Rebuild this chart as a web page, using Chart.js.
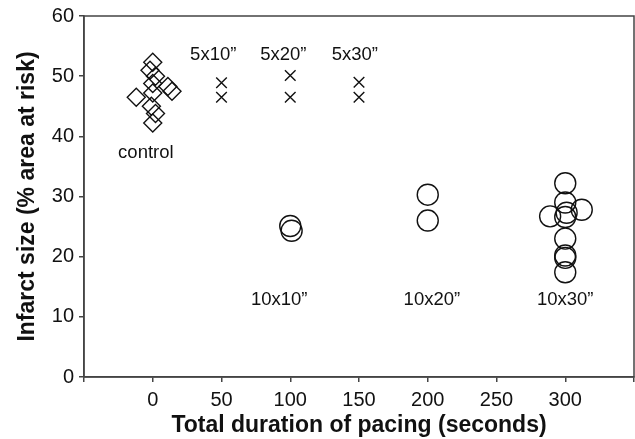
<!DOCTYPE html>
<html>
<head>
<meta charset="utf-8">
<script src="https://cdn.jsdelivr.net/npm/chart.js@4.4.0/dist/chart.umd.min.js"></script>
<style>
  html, body { margin: 0; padding: 0; background: #fff; }
  #wrap { width: 635px; height: 439px; }
</style>
</head>
<body>
<div id="wrap"><canvas id="scatterChart" width="635" height="439"></canvas></div>
<script>
  'use strict';

  /* Data
   * ----
   * x = total pacing (s), y = infarct size (% area at risk)
   */
  var controlX = [0, -2, 2, 0, 11, 14, -12, 0, -1, 2, 0];
  var controlY = [52.3, 51.0, 50.0, 48.8, 48.3, 47.5, 46.5, 47.2, 45.0, 43.8, 42.2];

  var fiveX = [50, 50, 100, 100, 150, 150];
  var fiveY = [48.9, 46.5, 50.1, 46.5, 49.0, 46.5];

  var tenX = [100, 101, 200, 200, 300, 300, 312, 301, 300, 289, 300, 300, 300, 300];
  var tenY = [25.1, 24.3, 30.3, 26.0, 32.2, 29.0, 27.8, 27.3, 26.6, 26.7, 23.0, 20.2, 19.8, 17.4];

  var groupLabels = ['control', '5x10\u201d', '5x20\u201d', '5x30\u201d', '10x10\u201d', '10x20\u201d', '10x30\u201d'];
  var labelX = [-5, 44, 95, 147, 92, 203, 300];
  var labelY = [37.2, 53.6, 53.6, 53.6, 12.8, 12.8, 12.8];

  var xTicks = [-50, 0, 50, 100, 150, 200, 250, 300, 350];

  function toPoints(xs, ys) {
    return xs.map(function(x, i) { return { x: x, y: ys[i] }; });
  }

  var FONT = "'Liberation Sans', Arial, Helvetica, sans-serif";

  // group labels and the box around the plot
  var annotate = {
    id: 'annotate',
    afterDatasetsDraw: function(chart) {
      var ctx = chart.ctx;
      var xs = chart.scales.x, ys = chart.scales.y;
      ctx.save();
      ctx.fillStyle = '#111';
      ctx.font = '18.5px ' + FONT;
      ctx.textAlign = 'center';
      ctx.textBaseline = 'middle';
      groupLabels.forEach(function(t, i) {
        ctx.fillText(t, xs.getPixelForValue(labelX[i]), ys.getPixelForValue(labelY[i]));
      });
      var a = chart.chartArea;
      ctx.strokeStyle = '#444';
      ctx.lineWidth = 1.5;
      ctx.strokeRect(a.left, a.top, a.right - a.left, a.bottom - a.top);
      ctx.restore();
    }
  };

  var markerStyle = {
    backgroundColor: 'rgba(0,0,0,0)',
    borderColor: '#111',
    borderWidth: 1.4
  };

  var scatterData = {
    datasets: [
      Object.assign({ label: 'control', data: toPoints(controlX, controlY), pointStyle: 'rectRot', pointRadius: 9 }, markerStyle),
      Object.assign({ label: '5x', data: toPoints(fiveX, fiveY), pointStyle: 'crossRot', pointRadius: 7.5 }, markerStyle),
      Object.assign({ label: '10x', data: toPoints(tenX, tenY), pointStyle: 'circle', pointRadius: 10.5 }, markerStyle)
    ]
  };

  var scatterOptions = {
    responsive: false,
    animation: false,
    layout: { autoPadding: false, padding: { top: 16, right: 1, left: 0, bottom: 0 } },
    plugins: { legend: { display: false }, tooltip: { enabled: false } },
    scales: {
      x: {
        type: 'linear',
        min: -50,
        max: 350,
        afterBuildTicks: function(s) { s.ticks = xTicks.map(function(v) { return { value: v }; }); },
        afterFit: function(s) { s.height = 439 - 377; s.paddingLeft = 0; s.paddingRight = 0; },
        grid: { display: true, drawOnChartArea: false, tickLength: 5, color: '#444', lineWidth: 1.5 },
        border: { color: '#444', width: 1.5 },
        ticks: {
          color: '#111',
          font: { family: FONT, size: 20 },
          padding: 6,
          maxRotation: 0,
          callback: function(v) { return (v < 0 || v > 300) ? '' : v; }
        },
        title: {
          display: true,
          text: 'Total duration of pacing (seconds)',
          color: '#111',
          font: { family: FONT, size: 23, weight: 'bold' },
          padding: { top: 0, bottom: 0 }
        }
      },
      y: {
        min: 0,
        max: 60,
        ticks: { stepSize: 10, color: '#111', font: { family: FONT, size: 20 }, padding: 5 },
        afterFit: function(s) { s.width = 84; s.paddingTop = 0; s.paddingBottom = 0; },
        grid: { display: true, drawOnChartArea: false, tickLength: 5, color: '#444', lineWidth: 1.5 },
        border: { color: '#444', width: 1.5 },
        title: {
          display: true,
          text: 'Infarct size (% area at risk)',
          color: '#111',
          font: { family: FONT, size: 23, weight: 'bold' },
          padding: { top: 14, bottom: 0 }
        }
      }
    }
  };

  var ctx = document.getElementById('scatterChart').getContext('2d');
  var scatterChart = new Chart(ctx, {
    type: 'scatter',
    data: scatterData,
    options: scatterOptions,
    plugins: [annotate]
  });
</script>
</body>
</html>
